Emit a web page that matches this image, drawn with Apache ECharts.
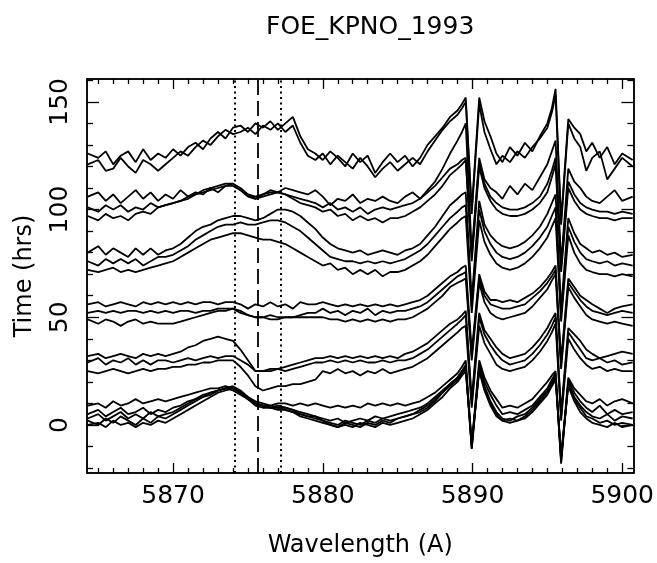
<!DOCTYPE html>
<html>
<head>
<meta charset="utf-8">
<script src="https://cdn.jsdelivr.net/npm/echarts@6/dist/echarts.min.js"></script>
<style>
  html, body { margin: 0; padding: 0; background: #fff; }
  #spectra { width: 657px; height: 563px; }
</style>
</head>
<body>
<div id="spectra"></div>
<script>
// wavelength grid (A), shared by every spectrum
var wavelengths = [
  5864.3, 5865, 5865.5, 5866, 5866.5, 5867, 5867.5, 5868, 5868.5, 5869,
  5869.5, 5870, 5870.5, 5871, 5871.5, 5872, 5872.5, 5873, 5873.5, 5874,
  5874.5, 5875, 5875.5, 5876, 5876.5, 5877, 5877.5, 5878, 5878.5, 5879,
  5879.5, 5880, 5880.5, 5881, 5881.5, 5882, 5882.5, 5883, 5883.5, 5884,
  5884.5, 5885, 5885.5, 5886, 5886.5, 5887, 5887.5, 5888, 5888.5,
  5889.0, 5889.3, 5889.55, 5889.95, 5890.45, 5890.8, 5891.2,
  5891.6, 5892.0, 5892.5, 5893.0, 5893.5, 5894.0, 5894.5,
  5895.0, 5895.3, 5895.55, 5895.92, 5896.4, 5896.8, 5897.2,
  5897.6, 5898.0, 5898.5, 5899.0, 5899.5, 5900.0, 5900.7
];

// spectra, offset by time (hrs)
var top1 = [126, 124, 127, 121, 125, 127, 122, 128, 123, 126,
  124, 128, 125, 129, 131, 128, 133, 136, 133, 138,
  139, 136, 140, 138, 141, 137, 140, 143, 134, 128,
  126, 123, 127, 124, 120, 126, 122, 125, 117, 122,
  126, 122, 125, 120, 124, 130, 134, 138, 143,
  146, 149, 152, 100, 152, 141, 134,
  126, 122, 129, 125, 131, 127, 134,
  140, 147, 156, 95, 142, 138, 135,
  127, 131, 124, 129, 121, 126, 123];
var top2 = [121, 123, 118, 119, 124, 120, 117, 123, 121, 118,
  121, 124, 127, 125, 129, 132, 130, 134, 137, 135,
  136, 138, 135, 139, 137, 140, 136, 139, 131, 125,
  123, 126, 121, 125, 122, 119, 124, 120, 115, 119,
  122, 118, 121, 124, 121, 127, 132, 137, 141,
  144, 147, 150, 98, 149, 136, 128,
  121, 125, 122, 127, 124, 129, 133,
  138, 145, 153, 93, 140, 133, 129,
  118, 124, 127, 114, 119, 124, 120];
var g2a = [106, 108, 104, 107, 103, 106, 109, 105, 108, 104,
  107, 105, 109, 106, 108, 107, 110, 108, 111, 112,
  109, 106, 105, 107, 109, 108, 110, 109, 108, 107,
  109, 106, 102, 105, 104, 107, 103, 105, 104, 106,
  104, 103, 106, 108, 105, 109, 113, 119, 126,
  132, 136, 140, 80, 124, 114, 110,
  108, 105, 111, 107, 112, 109, 115,
  121, 127, 132, 75, 119, 113, 110,
  106, 104, 103, 106, 109, 104, 106];
var g2b = [101, 99, 102, 100, 102, 99, 101, 100, 103, 101,
  102, 103, 104, 106, 107, 109, 110, 111, 112, 112,
  110, 107, 106, 107, 108, 108, 107, 106, 105, 104,
  103, 101, 103, 100, 101, 99, 101, 98, 100, 101,
  100, 101, 102, 103, 105, 108, 111, 115, 119,
  121, 123, 124, 78, 122, 112, 106,
  103, 101, 100, 100, 101, 103, 106,
  112, 118, 124, 73, 113, 107, 103,
  101, 100, 99, 99, 98, 99, 98];
var g2c = [97, 95, 98, 96, 97, 95, 98, 99, 98, 101,
  102, 103, 104, 105, 107, 108, 109, 110, 111, 111,
  109, 107, 105, 106, 107, 108, 107, 105, 103, 102,
  101, 99, 100, 97, 98, 95, 97, 95, 96, 94,
  96, 96, 97, 99, 101, 104, 107, 111, 116,
  119, 121, 123, 76, 120, 110, 104,
  100, 98, 97, 97, 98, 100, 103,
  108, 115, 121, 71, 110, 104, 100,
  98, 97, 96, 96, 95, 96, 96];
var g3a = [80, 83, 79, 82, 80, 78, 82, 79, 82, 79,
  81, 82, 84, 87, 90, 92, 93, 95, 96, 97,
  97, 96, 95, 96, 98, 100, 100, 99, 97, 94,
  91, 87, 84, 82, 81, 80, 81, 79, 80, 81,
  80, 79, 81, 82, 84, 88, 92, 97, 102,
  105, 107, 108, 58, 104, 93, 88,
  85, 83, 82, 83, 85, 88, 92,
  98, 103, 107, 54, 96, 89, 84,
  82, 80, 81, 79, 80, 78, 79];
var g3b = [76, 74, 77, 75, 77, 75, 77, 74, 76, 78,
  78, 79, 81, 83, 86, 88, 90, 92, 93, 93,
  94, 93, 93, 94, 95, 95, 94, 92, 90, 87,
  84, 81, 78, 77, 76, 76, 75, 76, 75, 76,
  75, 76, 77, 79, 81, 84, 88, 92, 96,
  99, 101, 102, 55, 100, 90, 84,
  80, 78, 77, 78, 80, 83, 87,
  92, 97, 101, 51, 92, 85, 80,
  77, 76, 75, 76, 74, 75, 74];
var g3c = [72, 71, 72, 73, 71, 72, 71, 72, 73, 74,
  75, 76, 78, 80, 82, 84, 86, 87, 88, 89,
  89, 88, 87, 86, 86, 85, 84, 82, 80, 78,
  76, 74, 75, 72, 73, 70, 72, 70, 72, 69,
  71, 71, 72, 74, 76, 79, 83, 87, 91,
  94, 96, 97, 52, 95, 85, 79,
  75, 73, 72, 73, 75, 78, 82,
  87, 92, 96, 48, 88, 80, 75,
  72, 71, 70, 70, 69, 70, 69];
var g4a = [56, 57, 55, 56, 57, 56, 55, 57, 56, 57,
  56, 57, 56, 57, 56, 57, 57, 56, 57, 57,
  56, 54, 56, 55, 57, 55, 56, 54, 57, 56,
  56, 57, 56, 55, 56, 55, 56, 55, 56, 55,
  56, 55, 56, 57, 58, 60, 63, 66, 69,
  71, 73, 74, 34, 70, 62, 58,
  58, 57, 58, 57, 59, 61, 64,
  68, 71, 74, 30, 68, 64, 60,
  58, 56, 54, 52, 54, 55, 56];
var g4b = [52, 53, 52, 53, 52, 53, 53, 52, 53, 52,
  53, 52, 53, 53, 52, 53, 53, 54, 54, 54,
  53, 51, 50, 50, 49, 49, 50, 50, 51, 52,
  52, 54, 52, 53, 51, 53, 52, 54, 51, 53,
  52, 53, 53, 54, 55, 57, 60, 63, 66,
  69, 70, 71, 32, 68, 60, 56,
  55, 54, 54, 55, 56, 59, 62,
  66, 69, 72, 28, 66, 62, 58,
  55, 53, 52, 51, 52, 53, 52];
var g4c = [49, 47, 49, 48, 46, 48, 49, 47, 48, 47,
  47, 47, 48, 49, 50, 51, 52, 53, 53, 54,
  52, 51, 50, 50, 51, 50, 50, 50, 50, 50,
  50, 50, 49, 49, 48, 49, 48, 49, 48, 49,
  48, 49, 49, 50, 52, 54, 57, 60, 64,
  66, 67, 68, 30, 66, 57, 52,
  50, 49, 50, 51, 52, 55, 59,
  63, 67, 70, 26, 64, 59, 55,
  51, 49, 48, 47, 48, 47, 46];
var g5a = [32, 33, 31, 32, 33, 32, 31, 33, 32, 33,
  32, 33, 34, 36, 37, 39, 40, 41, 40, 39,
  35, 30, 25, 25, 25, 26, 27, 28, 29, 30,
  31, 31, 32, 31, 32, 31, 32, 31, 32, 31,
  32, 31, 33, 34, 36, 38, 41, 44, 47,
  49, 51, 53, 12, 52, 44, 40,
  36, 33, 31, 32, 33, 36, 40,
  45, 49, 52, 6, 45, 42, 39,
  35, 33, 31, 32, 33, 34, 33];
var g5b = [29, 31, 28, 30, 29, 31, 28, 30, 28, 30,
  30, 29, 30, 31, 30, 31, 32, 31, 32, 32,
  30, 28, 25, 25, 26, 26, 25, 26, 27, 28,
  29, 29, 30, 29, 30, 29, 30, 29, 29, 30,
  29, 30, 30, 31, 33, 35, 38, 41, 44,
  47, 49, 51, 10, 50, 42, 37,
  33, 30, 28, 29, 30, 33, 37,
  42, 46, 50, 4, 43, 39, 35,
  31, 30, 31, 29, 30, 28, 29];
var g5c = [25, 24, 25, 26, 25, 24, 25, 26, 25, 26,
  26, 27, 27, 28, 28, 29, 29, 30, 30, 30,
  27, 23, 18, 16, 17, 18, 18, 19, 19, 20,
  21, 25, 24, 26, 24, 25, 23, 25, 24, 26,
  24, 25, 26, 27, 29, 31, 34, 37, 40,
  43, 45, 46, 8, 46, 38, 33,
  28, 26, 25, 26, 27, 30, 34,
  39, 43, 47, 2, 40, 35, 31,
  28, 26, 27, 25, 26, 25, 25];
var b1 = [9, 10, 8, 11, 9, 10, 12, 10, 11, 12,
  11, 12, 13, 14, 15, 16, 17, 17, 18, 17,
  15, 13, 11, 10, 9, 10, 10, 9, 10, 9,
  10, 9, 8, 9, 8, 9, 8, 10, 9, 10,
  9, 10, 9, 10, 11, 13, 15, 18, 21,
  24, 27, 30, -9, 30, 22, 16,
  12, 8, 9, 8, 10, 12, 16,
  20, 23, 25, -16, 22, 17, 14,
  11, 10, 12, 9, 11, 12, 10];
var b2 = [5, 7, 4, 6, 8, 5, 6, 8, 5, 7,
  6, 8, 9, 11, 12, 14, 15, 16, 17, 16,
  14, 12, 10, 9, 8, 8, 7, 6, 5, 4,
  4, 3, 2, 3, 1, 2, 3, 2, 4, 3,
  4, 5, 6, 7, 8, 10, 13, 16, 19,
  22, 25, 28, -11, 28, 20, 14,
  9, 5, 6, 5, 7, 9, 13,
  17, 21, 24, -18, 21, 15, 11,
  8, 6, 9, 5, 7, 5, 6];
var b3 = [3, 5, 2, 4, 6, 3, 5, 3, 6, 4,
  5, 6, 8, 10, 12, 13, 15, 16, 17, 17,
  15, 12, 10, 9, 9, 8, 8, 7, 6, 5,
  4, 2, 0, -1, 1, 0, -1, 1, 0, 2,
  1, 3, 4, 5, 6, 8, 11, 15, 19,
  22, 25, 27, -10, 27, 18, 11,
  6, 3, 2, 4, 5, 8, 12,
  16, 20, 23, -17, 20, 13, 9,
  6, 4, 3, 5, 2, 4, 3];
var b4 = [2, 0, 3, 1, 4, 2, 0, 3, 1, 4,
  3, 5, 7, 9, 11, 13, 14, 16, 17, 18,
  16, 13, 10, 9, 8, 9, 8, 7, 5, 4,
  3, 2, 1, 0, 2, 1, 0, 2, 1, 3,
  2, 3, 4, 5, 7, 9, 12, 15, 18,
  21, 24, 26, -11, 26, 17, 10,
  5, 2, 3, 2, 4, 7, 11,
  15, 19, 22, -15, 19, 12, 8,
  4, 3, 1, 2, 0, 1, 0];
var b5 = [0, 1, -1, 2, 0, 1, -1, 1, 0, 2,
  1, 3, 5, 7, 9, 11, 13, 15, 16, 17,
  15, 12, 9, 8, 8, 7, 7, 6, 4, 3,
  2, 1, 0, -1, 0, -1, 1, 0, -1, 1,
  0, 1, 2, 3, 5, 7, 10, 13, 17,
  20, 23, 25, -8, 25, 16, 9,
  4, 2, 1, 2, 3, 6, 10,
  14, 18, 21, -14, 18, 11, 6,
  3, 1, 0, -1, 1, -1, 0];

var spectra = [top1, top2, g2a, g2b, g2c, g3a, g3b, g3c,
  g4a, g4b, g4c, g5a, g5b, g5c, b1, b2, b3, b4, b5];

// He I 5875.6 and the two side markers
var heMarkers = [5874.1, 5875.65, 5877.2];

var xRange = [5864.25, 5900.75];
var yRange = [-22.3, 160.6];
var xMajorTicks = [5870, 5880, 5890, 5900];
var yMajorTicks = [0, 50, 100, 150];

var xMinorTicks = [];
for (var w = 5865; w <= 5900; w++) {
  if (xMajorTicks.indexOf(w) < 0) xMinorTicks.push(w);
}
var yMinorTicks = [];
for (var t = -20; t <= 160; t += 10) {
  if (yMajorTicks.indexOf(t) < 0) yMinorTicks.push(t);
}

var font = 'DejaVu Sans';
var ink = '#000';
var textStyle = { color: ink, fontFamily: font, fontWeight: 'normal', fontSize: 25 };
var nameStyle = { color: ink, fontFamily: font, fontWeight: 'normal', fontSize: 24 };

function frameAxis(pos, range, ticks, tickLen) {
  return {
    type: 'value',
    position: pos,
    min: range[0],
    max: range[1],
    axisLine: { show: true, onZero: false, lineStyle: { color: ink, width: 1.5 } },
    axisTick: { show: true, inside: true, length: tickLen, customValues: ticks,
      lineStyle: { color: ink, width: 1.3 } },
    axisLabel: { show: false },
    splitLine: { show: false }
  };
}

var xBottom = frameAxis('bottom', xRange, xMajorTicks, 10);
xBottom.axisLabel = Object.assign({ show: true, customValues: xMajorTicks, margin: 11,
  formatter: function (v) { return String(v); } }, textStyle);
xBottom.name = 'Wavelength (A)';
xBottom.nameLocation = 'middle';
xBottom.nameGap = 61;
xBottom.nameTextStyle = nameStyle;

var yLeft = frameAxis('left', yRange, yMajorTicks, 12);
yLeft.axisLabel = Object.assign({ show: true, customValues: yMajorTicks, rotate: 90, margin: 14,
  formatter: function (v) { return String(v); } }, textStyle);
yLeft.name = 'Time (hrs)';
yLeft.nameLocation = 'middle';
yLeft.nameGap = 50;
yLeft.nameTextStyle = nameStyle;

var series = spectra.map(function (vals, k) {
  var s = {
    type: 'line',
    xAxisIndex: 0,
    yAxisIndex: 0,
    data: wavelengths.map(function (w, i) { return [w, vals[i]]; }),
    symbol: 'none',
    silent: true,
    lineStyle: { color: ink, width: 1.8 }
  };
  if (k === 0) {
    s.markLine = {
      symbol: 'none',
      silent: true,
      label: { show: false },
      data: heMarkers.map(function (m, j) {
        return { xAxis: m, lineStyle: { color: ink, width: j === 1 ? 1.8 : 2,
          type: j === 1 ? [15, 6] : [2, 3.5] } };
      })
    };
  }
  return s;
});

var chart = echarts.init(document.getElementById('spectra'), null, { renderer: 'canvas' });
chart.setOption({
  animation: false,
  backgroundColor: '#fff',
  title: {
    text: 'FOE_KPNO_1993',
    left: 261,
    top: 10,
    textStyle: textStyle
  },
  grid: { left: 87, right: 20, top: 79, bottom: 88 },
  xAxis: [
    xBottom,
    frameAxis('bottom', xRange, xMinorTicks, 5),
    frameAxis('top', xRange, xMajorTicks, 10),
    frameAxis('top', xRange, xMinorTicks, 5)
  ],
  yAxis: [
    yLeft,
    frameAxis('left', yRange, yMinorTicks, 6),
    frameAxis('right', yRange, yMajorTicks, 12),
    frameAxis('right', yRange, yMinorTicks, 6)
  ],
  series: series
});
</script>
</body>
</html>
